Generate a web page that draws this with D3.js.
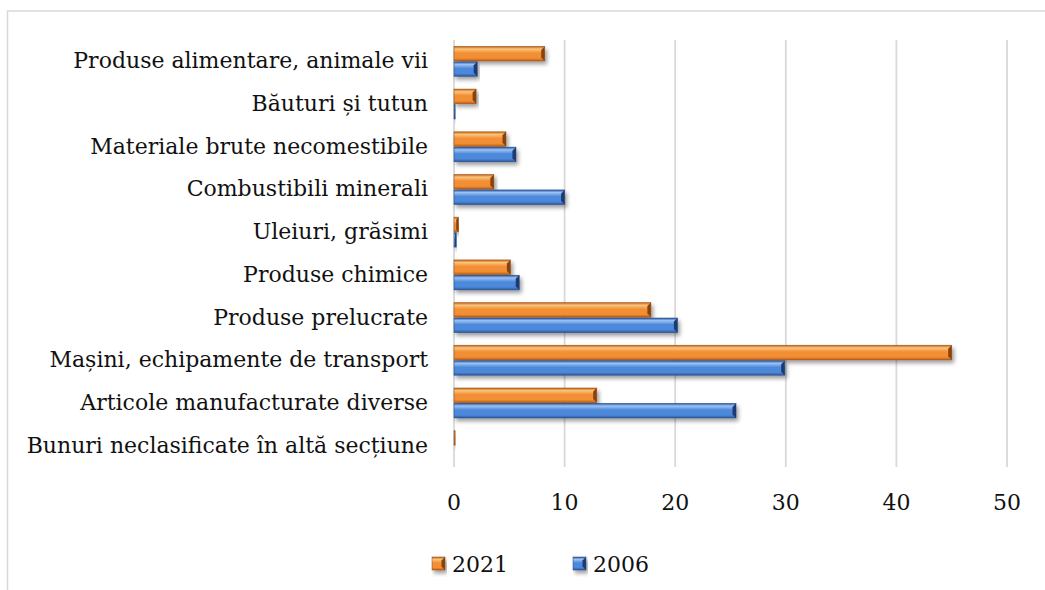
<!DOCTYPE html>
<html>
<head>
<meta charset="utf-8">
<script src="https://cdn.jsdelivr.net/npm/d3@7"></script>
<style>
  body { margin: 0; background: #fff; }
  svg { display: block; font-family: "DejaVu Serif", "Liberation Serif", serif; }
</style>
</head>
<body>
<div id="chart"></div>
<script>
// categories, top to bottom
const categories = [
  "Produse alimentare, animale vii",
  "Băuturi și tutun",
  "Materiale brute necomestibile",
  "Combustibili minerali",
  "Uleiuri, grăsimi",
  "Produse chimice",
  "Produse prelucrate",
  "Mașini, echipamente de transport",
  "Articole manufacturate diverse",
  "Bunuri neclasificate în altă secțiune"
];
const values2021 = [8.2, 2.0, 4.7, 3.6, 0.4, 5.1, 17.8, 45.0, 12.9, 0.1];
const values2006 = [2.1, 0.1, 5.6, 10.0, 0.2, 5.9, 20.2, 29.9, 25.5, 0.0];
const seriesNames = ["2021", "2006"];
const xTicks = [0, 10, 20, 30, 40, 50];

const width = 1045, height = 590;
const svg = d3.select("#chart").append("svg")
  .attr("width", width)
  .attr("height", height);

const defs = svg.append("defs");

// gradients for the bevelled bars
const palettes = {
  "2021": { top: "#fbc47e", mid: "#f28f35", bot: "#c7600f", edge: "#8a430e" },
  "2006": { top: "#9cc3f4", mid: "#4d89da", bot: "#2b59a6", edge: "#1b3a72" }
};
Object.entries(palettes).forEach(([key, p]) => {
  const g = defs.append("linearGradient")
    .attr("id", "grad" + key)
    .attr("x1", 0).attr("y1", 0).attr("x2", 0).attr("y2", 1);
  g.append("stop").attr("offset", "0%").attr("stop-color", p.bot);
  g.append("stop").attr("offset", "18%").attr("stop-color", p.top);
  g.append("stop").attr("offset", "45%").attr("stop-color", p.mid);
  g.append("stop").attr("offset", "80%").attr("stop-color", p.mid);
  g.append("stop").attr("offset", "100%").attr("stop-color", p.bot);
});

// soft drop shadow
const shadow = defs.append("filter").attr("id", "shadow")
  .attr("x", "-5%").attr("y", "-30%").attr("width", "115%").attr("height", "180%");
shadow.append("feGaussianBlur").attr("in", "SourceAlpha").attr("stdDeviation", 2);
shadow.append("feOffset").attr("dx", 1.5).attr("dy", 2.5).attr("result", "off");
shadow.append("feComponentTransfer").append("feFuncA").attr("type", "linear").attr("slope", 0.4);
const merge = shadow.append("feMerge");
merge.append("feMergeNode");
merge.append("feMergeNode").attr("in", "SourceGraphic");

// chart frame (only top and left edges are visible in the picture)
svg.append("path")
  .attr("d", "M7.5,590 V11 H1045")
  .attr("fill", "none")
  .attr("stroke", "#d9d9d9")
  .attr("stroke-width", 1.5);

const x = d3.scaleLinear().domain([0, 50]).range([454, 1007]);
const y = d3.scaleBand().domain(categories).range([40, 467])
  .paddingInner(0.3).paddingOuter(0.15);
const ySub = d3.scaleBand().domain(seriesNames).range([0, y.bandwidth()]).paddingInner(0.06);

// gridlines
svg.append("g")
  .selectAll("line")
  .data(xTicks)
  .join("line")
  .attr("x1", d => x(d)).attr("x2", d => x(d))
  .attr("y1", 40).attr("y2", 467)
  .attr("stroke", "#d9d9d9")
  .attr("stroke-width", 1.8);

// x tick labels
svg.append("g")
  .selectAll("text")
  .data(xTicks)
  .join("text")
  .attr("x", d => x(d))
  .attr("y", 510)
  .attr("text-anchor", "middle")
  .attr("font-size", 22)
  .attr("fill", "#111")
  .text(d => d);

// category labels
svg.append("g")
  .selectAll("text")
  .data(categories)
  .join("text")
  .attr("x", 428)
  .attr("y", d => y(d) + y.bandwidth() / 2 + 7)
  .attr("text-anchor", "end")
  .attr("font-size", 22)
  .attr("fill", "#111")
  .text(d => d);

// bars
const rows = categories.map((c, i) => ({ cat: c, vals: { "2021": values2021[i], "2006": values2006[i] } }));

function drawBar(g, x0, x1, y0, h, key) {
  const w = x1 - x0;
  if (w <= 0) return;
  const p = palettes[key];
  const grp = g.append("g").attr("filter", "url(#shadow)");
  grp.append("rect")
    .attr("x", x0).attr("y", y0).attr("width", w).attr("height", h)
    .attr("fill", "url(#grad" + key + ")");
  // bevelled right end
  const b = Math.min(3.5, w / 2);
  grp.append("path")
    .attr("d", `M${x1 - b},${y0 + b} L${x1},${y0} L${x1},${y0 + h} L${x1 - b},${y0 + h - b} Z`)
    .attr("fill", p.edge);
  grp.append("rect")
    .attr("x", x0).attr("y", y0).attr("width", w).attr("height", h)
    .attr("fill", "none")
    .attr("stroke", p.edge)
    .attr("stroke-opacity", 0.6)
    .attr("stroke-width", 0.8);
}

const barLayer = svg.append("g");
rows.forEach(r => {
  seriesNames.forEach(s => {
    drawBar(barLayer, x(0), x(r.vals[s]), y(r.cat) + ySub(s), ySub.bandwidth(), s);
  });
});

// legend
const legend = svg.append("g");
const legendItems = [
  { key: "2021", sx: 432, tx: 452 },
  { key: "2006", sx: 573, tx: 593 }
];
legendItems.forEach(it => {
  drawBar(legend, it.sx, it.sx + 13, 557, 13, it.key);
  legend.append("text")
    .attr("x", it.tx)
    .attr("y", 572)
    .attr("font-size", 22)
    .attr("fill", "#111")
    .text(it.key);
});
</script>
</body>
</html>
